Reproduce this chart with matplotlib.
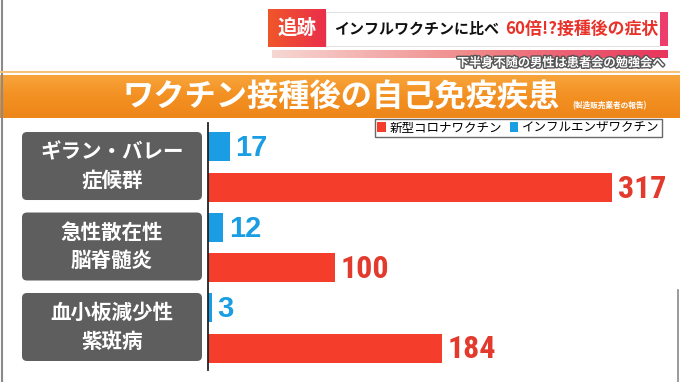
import numpy as np
import matplotlib
matplotlib.use('Agg')
from matplotlib import pyplot as plt
from matplotlib.patches import FancyBboxPatch, Rectangle
import matplotlib.patheffects as pe

plt.rcParams['font.family'] = ['Noto Sans CJK JP', 'DejaVu Sans']

# data
categories = ['ギラン・バレー\n症候群', '急性散在性\n脳脊髄炎', '血小板減少性\n紫斑病']
covid_label = '新型コロナワクチン'
flu_label = 'インフルエンザワクチン'
covid_values = [317, 100, 184]
flu_values = [17, 12, 3]

RED = '#f43d2b'
RED_TXT = '#e23a2c'
BLUE = '#1a9de3'
GRAY_BOX = '#5e5e5e'

fig = plt.figure(figsize=(6.8, 3.82), dpi=100)
fig.patch.set_facecolor('white')

# background axes in pixel units for the TV decorations
bg = fig.add_axes([0, 0, 1, 1])
bg.set_xlim(0, 680)
bg.set_ylim(382, 0)
bg.axis('off')

# borders
bg.plot([2, 2], [0, 382], color='#8a8a8a', lw=1.5)
bg.plot([678, 678], [290, 382], color='#8a8a8a', lw=1.2)

# header: 追跡 tag
grad = np.linspace(0, 1, 100).reshape(1, -1)
tag_cmap = matplotlib.colors.LinearSegmentedColormap.from_list('tag', ['#f0562a', '#ea2f4a'])
bg.imshow(grad, cmap=tag_cmap, extent=(268, 326, 47, 9), aspect='auto', zorder=2)
bg.text(297, 28, '追跡', color='white', fontsize=14, fontweight='bold', ha='center', va='center', zorder=3)

# white caption box with pink tail
bg.add_patch(Rectangle((326, 12), 334, 34, facecolor='white', edgecolor='#dddddd', lw=0.6, zorder=2))
bg.add_patch(Rectangle((660, 12), 8, 34, facecolor='#ec3d6c', edgecolor='none', zorder=2))
strip_cmap = matplotlib.colors.LinearSegmentedColormap.from_list('strip', ['#f6d6d2', '#f08a8a', '#e8355c'])
bg.imshow(grad, cmap=strip_cmap, extent=(272, 668, 58, 50), aspect='auto', zorder=2)
bg.text(334, 29, 'インフルワクチンに比べ', color='#111111', fontsize=10.8, fontweight='bold',
        ha='left', va='center', zorder=3)
bg.text(505, 29, '60倍!?接種後の症状', color='#e8322a', fontsize=12.2, fontweight='bold',
        ha='left', va='center', zorder=3)
bg.text(665, 63, '下半身不随の男性は患者会の勉強会へ', color='white', fontsize=8.8, fontweight='bold',
        ha='right', va='center', zorder=3,
        path_effects=[pe.withStroke(linewidth=2, foreground='#555555')])

# orange title band
bg.plot([0, 680], [71.5, 71.5], color='#f6c27a', lw=1.5)
band_grad = np.linspace(0, 1, 100).reshape(-1, 1)
band_cmap = matplotlib.colors.LinearSegmentedColormap.from_list('band', ['#f8a43a', '#f39022', '#ee861a'])
bg.imshow(band_grad, cmap=band_cmap, extent=(0, 680, 118, 75), aspect='auto', zorder=1)
bg.text(341, 97, 'ワクチン接種後の自己免疫疾患', color='white', fontsize=22.5, fontweight='bold',
        ha='center', va='center', zorder=3)
bg.text(610, 106, '(製造販売業者の報告)', color='white', fontsize=5.5, fontweight='bold',
        ha='center', va='center', zorder=3)

# chart axes
px_per_unit = 404 / 317
ax = fig.add_axes([208 / 680, (382 - 370) / 382, (680 - 208) / 680, (370 - 123) / 382])
ax.patch.set_alpha(0)
ax.set_xlim(0, 472 / px_per_unit)
ax.set_ylim(2.522, -0.547)

y = np.arange(len(categories))
off = 0.25
h = 0.36
ax.barh(y + off, covid_values, height=h, color=RED, label=covid_label)
ax.barh(y - off, flu_values, height=h, color=BLUE, label=flu_label)

for yi, v in zip(y, covid_values):
    ax.annotate(str(v), (v, yi + off), xytext=(4, -1), textcoords='offset points',
                ha='left', va='center', fontsize=23, fontweight='bold', color=RED_TXT,
                family=['Roboto Condensed', 'DejaVu Sans'])
for yi, v in zip(y, flu_values):
    ax.annotate(str(v), (v, yi - off), xytext=(4, -1), textcoords='offset points',
                ha='left', va='center', fontsize=21, fontweight='bold', color=BLUE,
                family=['Liberation Sans', 'DejaVu Sans'])

for s in ['top', 'right', 'bottom']:
    ax.spines[s].set_visible(False)
ax.spines['left'].set_color('#222222')
ax.spines['left'].set_linewidth(1.3)
ax.set_xticks([])
ax.set_yticks([])

# category label boxes, aligned to the group positions
inv = bg.transData.inverted()
for yi, cat in zip(y, categories):
    cy = inv.transform(ax.transData.transform((0, yi)))[1] - 1
    bg.add_patch(FancyBboxPatch((25, cy - 31), 174, 62, boxstyle='round,pad=3,rounding_size=5',
                                facecolor=GRAY_BOX, edgecolor='none', zorder=2))
    bg.text(112, cy, cat, color='white', fontsize=14.8, fontweight='bold', ha='center', va='center',
            linespacing=1.45, zorder=3)

# legend
handles, labels = ax.get_legend_handles_labels()
leg = fig.legend(handles, labels, loc='upper right', bbox_to_anchor=(662 / 680, 1 - 119 / 382),
                 ncol=2, frameon=True, fancybox=False, edgecolor='#444444', fontsize=9,
                 handlelength=0.7, handleheight=0.9, handletextpad=0.3, columnspacing=0.6,
                 borderpad=0.2, borderaxespad=0)
leg.get_frame().set_linewidth(1.0)

fig.savefig('out.png', dpi=100)
